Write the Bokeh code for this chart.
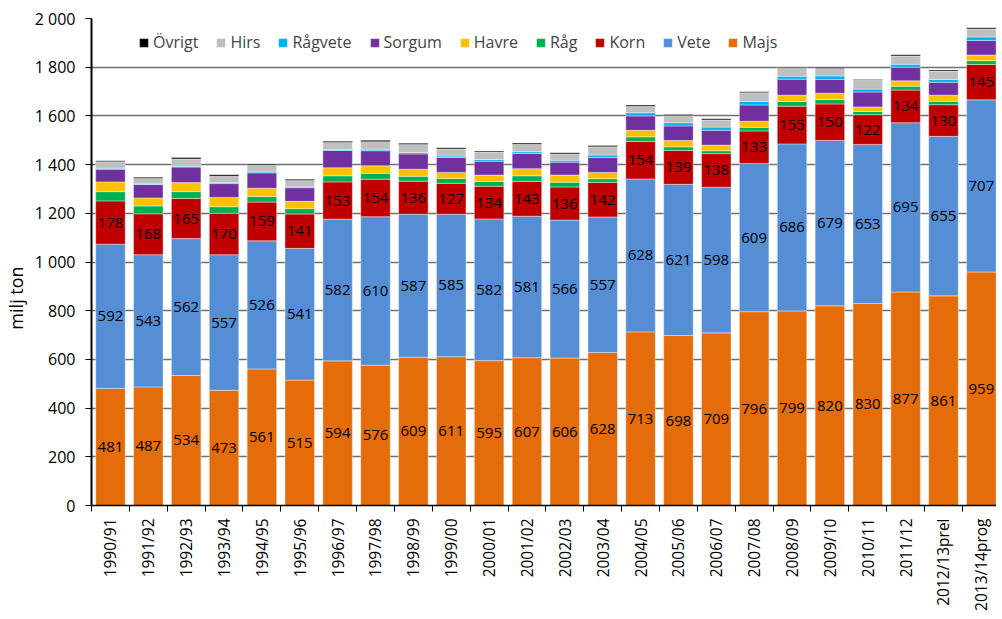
from math import pi
from bokeh.plotting import figure
from bokeh.models import (ColumnDataSource, Range1d, FixedTicker, Legend, LegendItem)
from bokeh.embed import file_html
from bokeh.resources import INLINE
from bokeh.core.properties import value

seasons = ["1990/91", "1991/92", "1992/93", "1993/94", "1994/95", "1995/96", "1996/97",
           "1997/98", "1998/99", "1999/00", "2000/01", "2001/02", "2002/03", "2003/04",
           "2004/05", "2005/06", "2006/07", "2007/08", "2008/09", "2009/10", "2010/11",
           "2011/12", "2012/13prel", "2013/14prog"]
majs = [481, 487, 534, 473, 561, 515, 594, 576, 609, 611, 595, 607, 606, 628, 713, 698, 709, 796, 799, 820, 830, 877, 861, 959]
vete = [592, 543, 562, 557, 526, 541, 582, 610, 587, 585, 582, 581, 566, 557, 628, 621, 598, 609, 686, 679, 653, 695, 655, 707]
korn = [178, 168, 165, 170, 159, 141, 153, 154, 136, 127, 134, 143, 136, 142, 154, 139, 138, 133, 155, 150, 122, 134, 130, 145]
rag = [38, 32, 28, 27, 23, 22, 25, 24, 20, 20, 20, 23, 20, 15, 19, 15, 12, 15, 19, 18, 13, 16, 14, 16]
havre = [40, 33, 37, 38, 34, 30, 33, 31, 29, 25, 26, 29, 29, 26, 27, 26, 23, 25, 26, 26, 19, 22, 25, 23]
sorgum = [52, 55, 64, 57, 63, 56, 71, 62, 63, 61, 57, 63, 53, 61, 59, 60, 61, 67, 66, 57, 61, 56, 53, 60]
ragvete = [4, 3, 3, 4, 4, 4, 4, 6, 6, 6, 7, 7, 8, 10, 13, 13, 13, 14, 12, 14, 12, 12, 12, 14]
hirs = [27, 22, 30, 26, 27, 26, 29, 31, 33, 29, 31, 31, 26, 34, 27, 29, 29, 36, 33, 31, 36, 34, 34, 33]
ovrigt = [4, 5, 6, 6, 5, 5, 5, 6, 5, 5, 4, 5, 5, 5, 5, 5, 5, 4, 4, 5, 4, 5, 5, 5]

names = ["Majs", "Vete", "Korn", "Råg", "Havre", "Sorgum", "Rågvete", "Hirs", "Övrigt"]
keys = ["majs", "vete", "korn", "rag", "havre", "sorgum", "ragvete", "hirs", "ovrigt"]
colors = ["#E46C0A", "#558ED5", "#C00000", "#00B050", "#FFC000", "#7030A0", "#00B0F0", "#BFBFBF", "#000000"]

y_ticks = [0, 200, 400, 600, 800, 1000, 1200, 1400, 1600, 1800, 2000]
y_tick_labels = ["0", "200", "400", "600", "800", "1 000", "1 200", "1 400", "1 600", "1 800", "2 000"]

n = len(seasons)
xs = [i + 0.5 for i in range(n)]
data = dict(x=xs, majs=majs, vete=vete, korn=korn, rag=rag, havre=havre,
            sorgum=sorgum, ragvete=ragvete, hirs=hirs, ovrigt=ovrigt)
data["majs_y"] = [m / 2 for m in majs]
data["vete_y"] = [m + v / 2 for m, v in zip(majs, vete)]
data["korn_y"] = [m + v + k / 2 for m, v, k in zip(majs, vete, korn)]
data["majs_t"] = [str(v) for v in majs]
data["vete_t"] = [str(v) for v in vete]
data["korn_t"] = [str(v) for v in korn]
source = ColumnDataSource(data)

FONT = "Open Sans"

p = figure(width=996, height=613, output_backend="svg", toolbar_location=None,
           x_range=Range1d(0, 23.9), y_range=Range1d(0, 2000),
           min_border_left=90, min_border_right=0, min_border_top=18, min_border_bottom=107)
p.outline_line_color = None
p.background_fill_color = "white"

renderers = p.vbar_stack(keys, x="x", width=0.78, source=source, color=colors,
                         line_color="white", line_alpha=0.5, line_width=0.8)

for key in ["majs", "vete", "korn"]:
    p.text(x="x", y=key + "_y", text=key + "_t", source=source,
           text_font=value(FONT), text_font_size="15px", text_color="black",
           text_align="center", text_baseline="middle")

# Axes
p.xgrid.visible = False
p.ygrid.ticker = FixedTicker(ticks=y_ticks)
p.ygrid.grid_line_color = "#707070"
p.ygrid.grid_line_width = 1.5

p.yaxis.ticker = FixedTicker(ticks=y_ticks)
p.yaxis.major_label_overrides = {t: l for t, l in zip(y_ticks, y_tick_labels)}
p.yaxis.axis_line_color = "black"
p.yaxis.axis_line_width = 2
p.yaxis.major_tick_in = 0
p.yaxis.major_tick_out = 6
p.yaxis.major_tick_line_color = "black"
p.yaxis.minor_tick_line_color = None
p.yaxis.major_label_standoff = 10
p.yaxis.major_label_text_font = FONT
p.yaxis.major_label_text_font_size = "16px"
p.yaxis.major_label_text_color = "black"
p.yaxis.axis_label = "milj ton\u2003\u2003\u2003\u2003"
p.yaxis.axis_label_text_font = FONT
p.yaxis.axis_label_text_font_size = "18px"
p.yaxis.axis_label_text_font_style = "normal"
p.yaxis.axis_label_text_color = "black"
p.yaxis.axis_label_standoff = 4

p.xaxis.ticker = FixedTicker(ticks=xs, minor_ticks=list(range(n + 1)))
p.xaxis.major_label_overrides = {x: s for x, s in zip(xs, seasons)}
p.xaxis.major_label_orientation = pi / 2
p.xaxis.axis_line_color = "black"
p.xaxis.axis_line_width = 1.5
p.xaxis.major_tick_line_color = None
p.xaxis.minor_tick_line_color = "black"
p.xaxis.minor_tick_in = 0
p.xaxis.minor_tick_out = 6
p.xaxis.major_label_standoff = 7
p.xaxis.major_label_text_font = FONT
p.xaxis.major_label_text_font_size = "15.5px"
p.xaxis.major_label_text_color = "black"

items = [LegendItem(label=nm, renderers=[r]) for nm, r in zip(names, renderers)][::-1]
legend = Legend(items=items, orientation="horizontal", location=(47, 452),
                padding=0, margin=0, spacing=17, label_standoff=4,
                glyph_width=11, glyph_height=11, label_height=20,
                label_text_font=FONT, label_text_font_size="16px",
                border_line_color=None, background_fill_alpha=0)
p.add_layout(legend)

open("out.html", "w").write(file_html(p, INLINE))
